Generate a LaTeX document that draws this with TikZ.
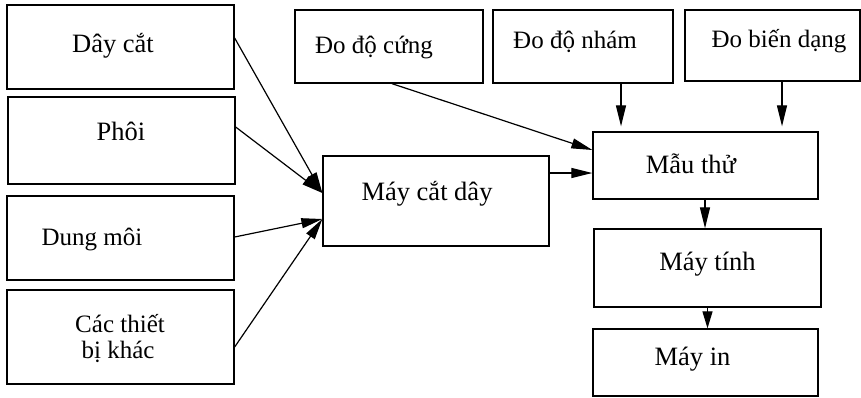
\documentclass[tikz,border=0pt]{standalone}
\usepackage{fontspec}
\setmainfont{Liberation Serif}
\usetikzlibrary{arrows.meta}
\begin{document}
\begin{tikzpicture}[x=1pt,y=-1pt,
  box/.style={draw=black,line width=1.3pt,inner sep=0pt,rectangle},
  lbl/.style={anchor=base,inner sep=0pt,font=\fontsize{26.5}{30}\selectfont},
  lbls/.style={anchor=base,inner sep=0pt,font=\fontsize{25}{28}\selectfont},
  arr/.style={line width=1.2pt,-{Triangle[length=21pt,width=10pt]}}]
\useasboundingbox (0,0) rectangle (861,397);
% left boxes
\node[box,minimum width=227pt,minimum height=84pt] (dc) at (120.5,47) {};
\node[box,minimum width=227pt,minimum height=87pt] (ph) at (121.5,140.5) {};
\node[box,minimum width=227pt,minimum height=84pt] (dm) at (120.5,238) {};
\node[box,minimum width=227pt,minimum height=94pt] (tb) at (120.5,337) {};
% top boxes
\node[box,minimum width=188pt,minimum height=73pt] (cung) at (389,46.5) {};
\node[box,minimum width=180pt,minimum height=73pt] (nham) at (583,46.5) {};
\node[box,minimum width=175pt,minimum height=71pt] (bd) at (772.5,45.5) {};
% middle / right boxes
\node[box,minimum width=226pt,minimum height=90pt] (mc) at (436,201) {};
\node[box,minimum width=225pt,minimum height=67pt] (mt) at (705.5,165.5) {};
\node[box,minimum width=227pt,minimum height=78pt] (tinh) at (707.5,268) {};
\node[box,minimum width=225pt,minimum height=67pt] (mi) at (705.5,362.5) {};
% labels
\node[lbl] (tdc) at (113,52) {Dây cắt};
\node[lbl] (tph) at (121,140) {Phôi};
\node[lbls] (tdm) at (92,245) {Dung môi};
\node[lbls,align=center] (ttb) at (120,332) {Các thiết};
\node[lbls] (ttb2) at (118,358) {bị khác};
\node[lbls] (tcung) at (374,53) {Đo độ cứng};
\node[lbls] (tnham) at (575,48) {Đo độ nhám};
\node[lbls] (tbd) at (779,47) {Đo biến dạng};
\node[lbl] (tmc) at (427,200) {Máy cắt dây};
\node[lbl] (tmt) at (691,173) {Mẫu thử};
\node[lbl] (ttinh) at (707.5,270) {Máy tính};
\node[lbl] (tmi) at (692.5,365) {Máy in};
% connectors
\draw[arr] ([yshift=9pt]dc.east) -- ([yshift=8pt]mc.west);
\draw[arr] ([yshift=13.5pt]ph.east) -- ([yshift=8pt]mc.west);
\draw[arr] ([yshift=1pt]dm.east) -- ([yshift=-18pt]mc.west);
\draw[arr] ([yshift=-10pt]tb.east) -- ([yshift=-18pt]mc.west);
\draw[arr] ([xshift=3pt]cung.south) -- ([yshift=15.5pt]mt.west);
\draw[arr] ([yshift=28pt]mc.east) -- ([yshift=-7.5pt]mt.west);
\draw[arr,shorten >=5pt] ([xshift=38pt]nham.south) -- ([xshift=-84.5pt]mt.north);
\draw[arr,shorten >=5pt] ([xshift=9.5pt]bd.south) -- ([xshift=76.5pt]mt.north);
\draw[arr] ([xshift=-0.5pt]mt.south) -- ([xshift=-2.5pt]tinh.north);
\draw[arr,-{Triangle[length=17pt,width=10pt]}] (tinh.south) -- ([xshift=2pt]mi.north);
\end{tikzpicture}
\end{document}
